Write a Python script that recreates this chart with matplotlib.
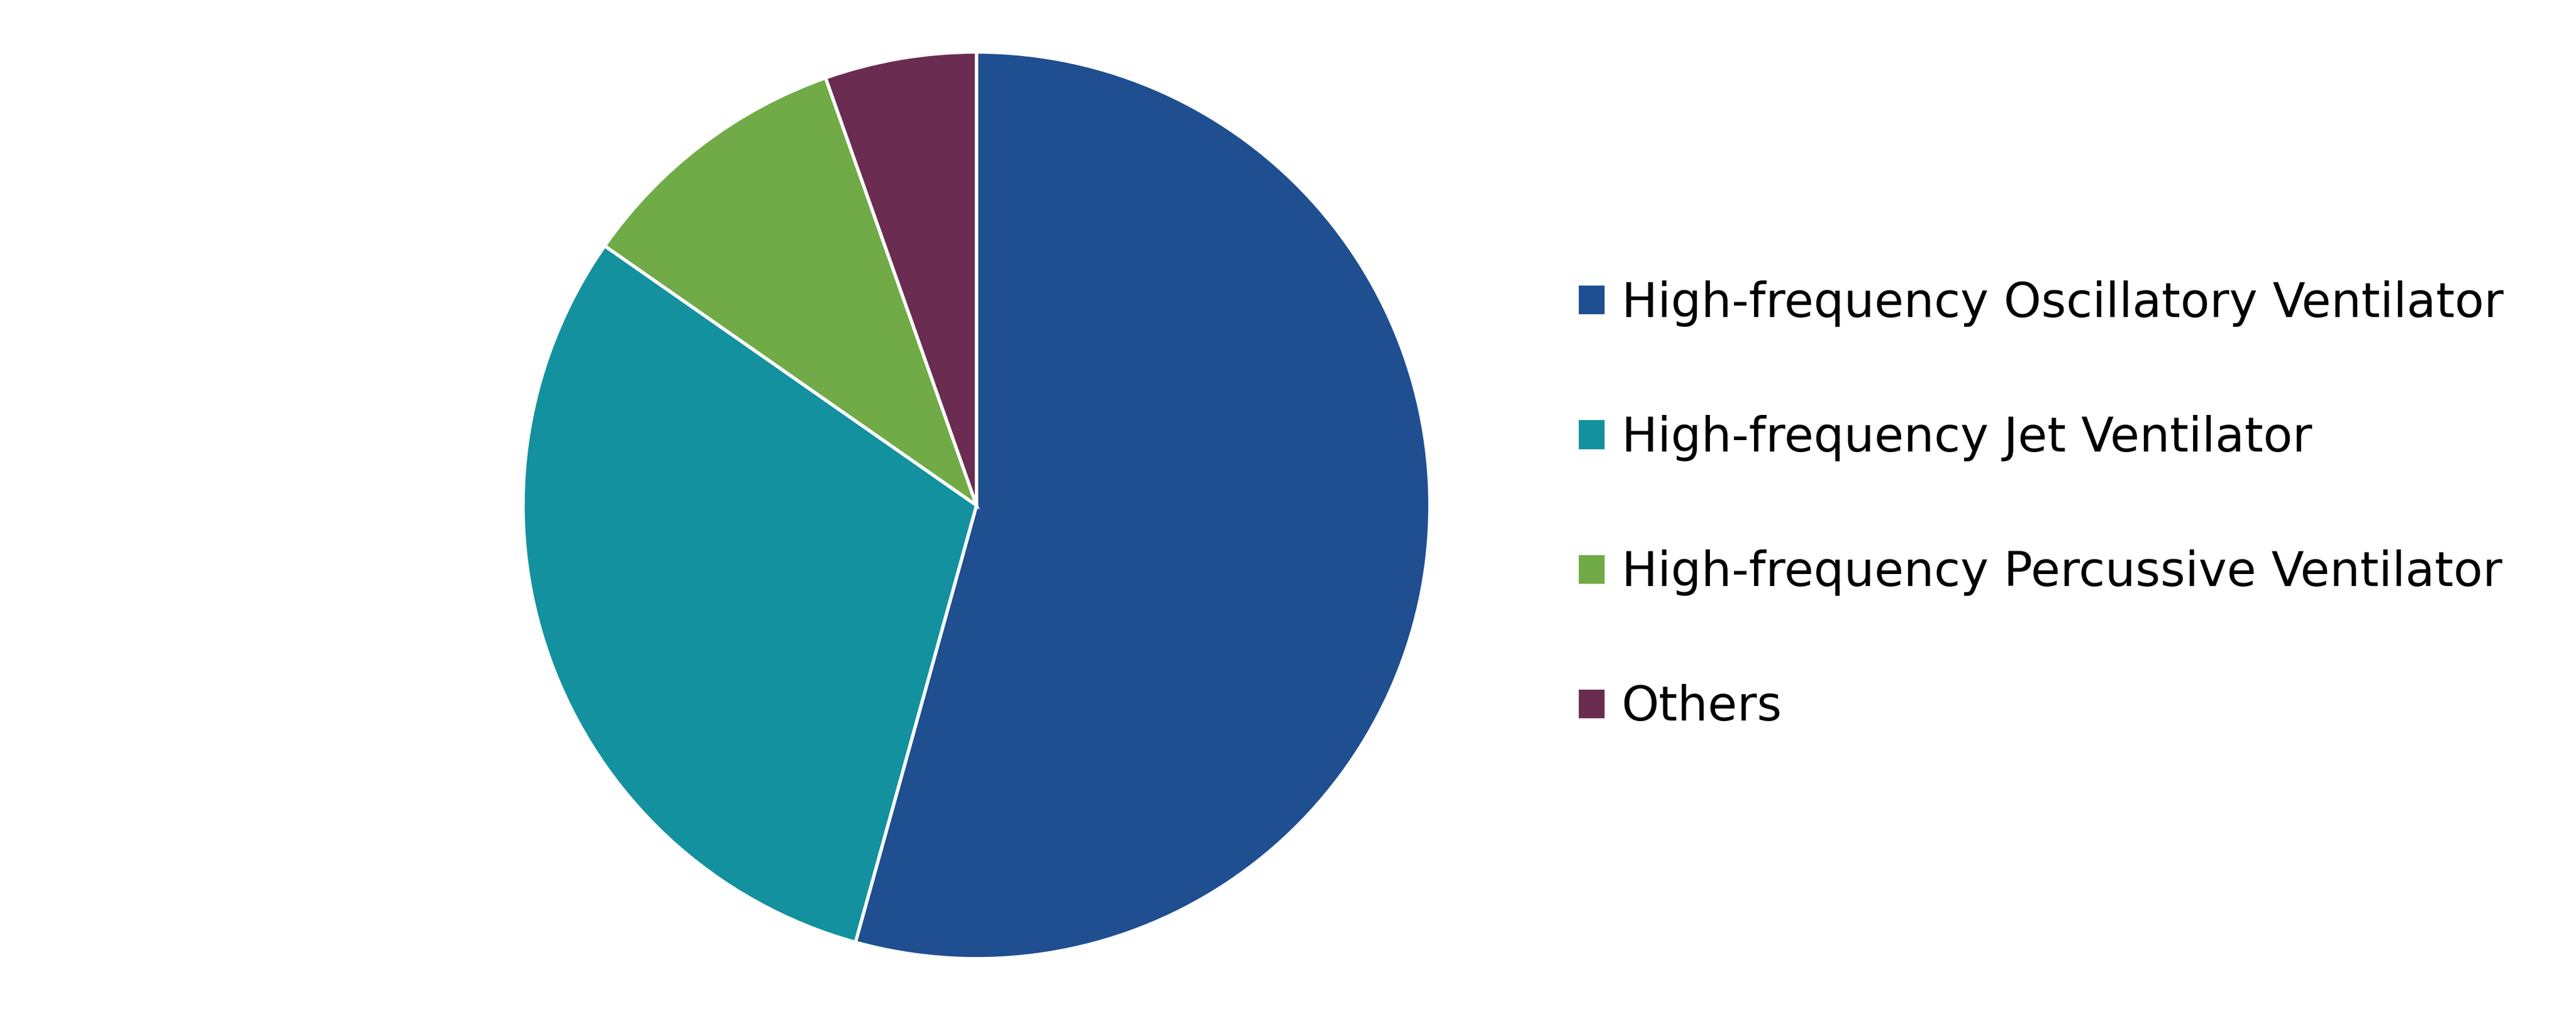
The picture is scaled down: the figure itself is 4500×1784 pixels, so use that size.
import matplotlib
matplotlib.use("Agg")
import matplotlib.pyplot as plt
from matplotlib.patches import Patch

# ---------------------------------------------------------------------------
# Data
# ---------------------------------------------------------------------------

labels = ["High-frequency Oscillatory Ventilator",
          "High-frequency Jet Ventilator",
          "High-frequency Percussive Ventilator",
          "Others"]
shares = [54.3, 30.4, 9.9, 5.4]
colors = ["#1f4e91", "#13919e", "#70ab47", "#6b2c51"]

# ---------------------------------------------------------------------------
# Figure
# ---------------------------------------------------------------------------

fig = plt.figure(figsize=(15.003, 5.947), dpi=300)
ax = fig.add_axes([0.203, 0.061, 0.352, 0.888])
ax.pie(shares, colors=colors, startangle=90, counterclock=False,
       wedgeprops=dict(edgecolor="white", linewidth=1.4))
ax.set_xlim(-1, 1)
ax.set_ylim(-1, 1)
ax.set_aspect("equal")

handles = [Patch(facecolor=c, edgecolor="none") for c in colors]
fig.legend(handles, labels, loc="center left", bbox_to_anchor=(0.596, 0.505),
           frameon=False, fontsize=20, handlelength=0.55, handleheight=0.55,
           handletextpad=0.35, labelspacing=1.85)

fig.savefig("out.png", dpi=300, facecolor="white")
